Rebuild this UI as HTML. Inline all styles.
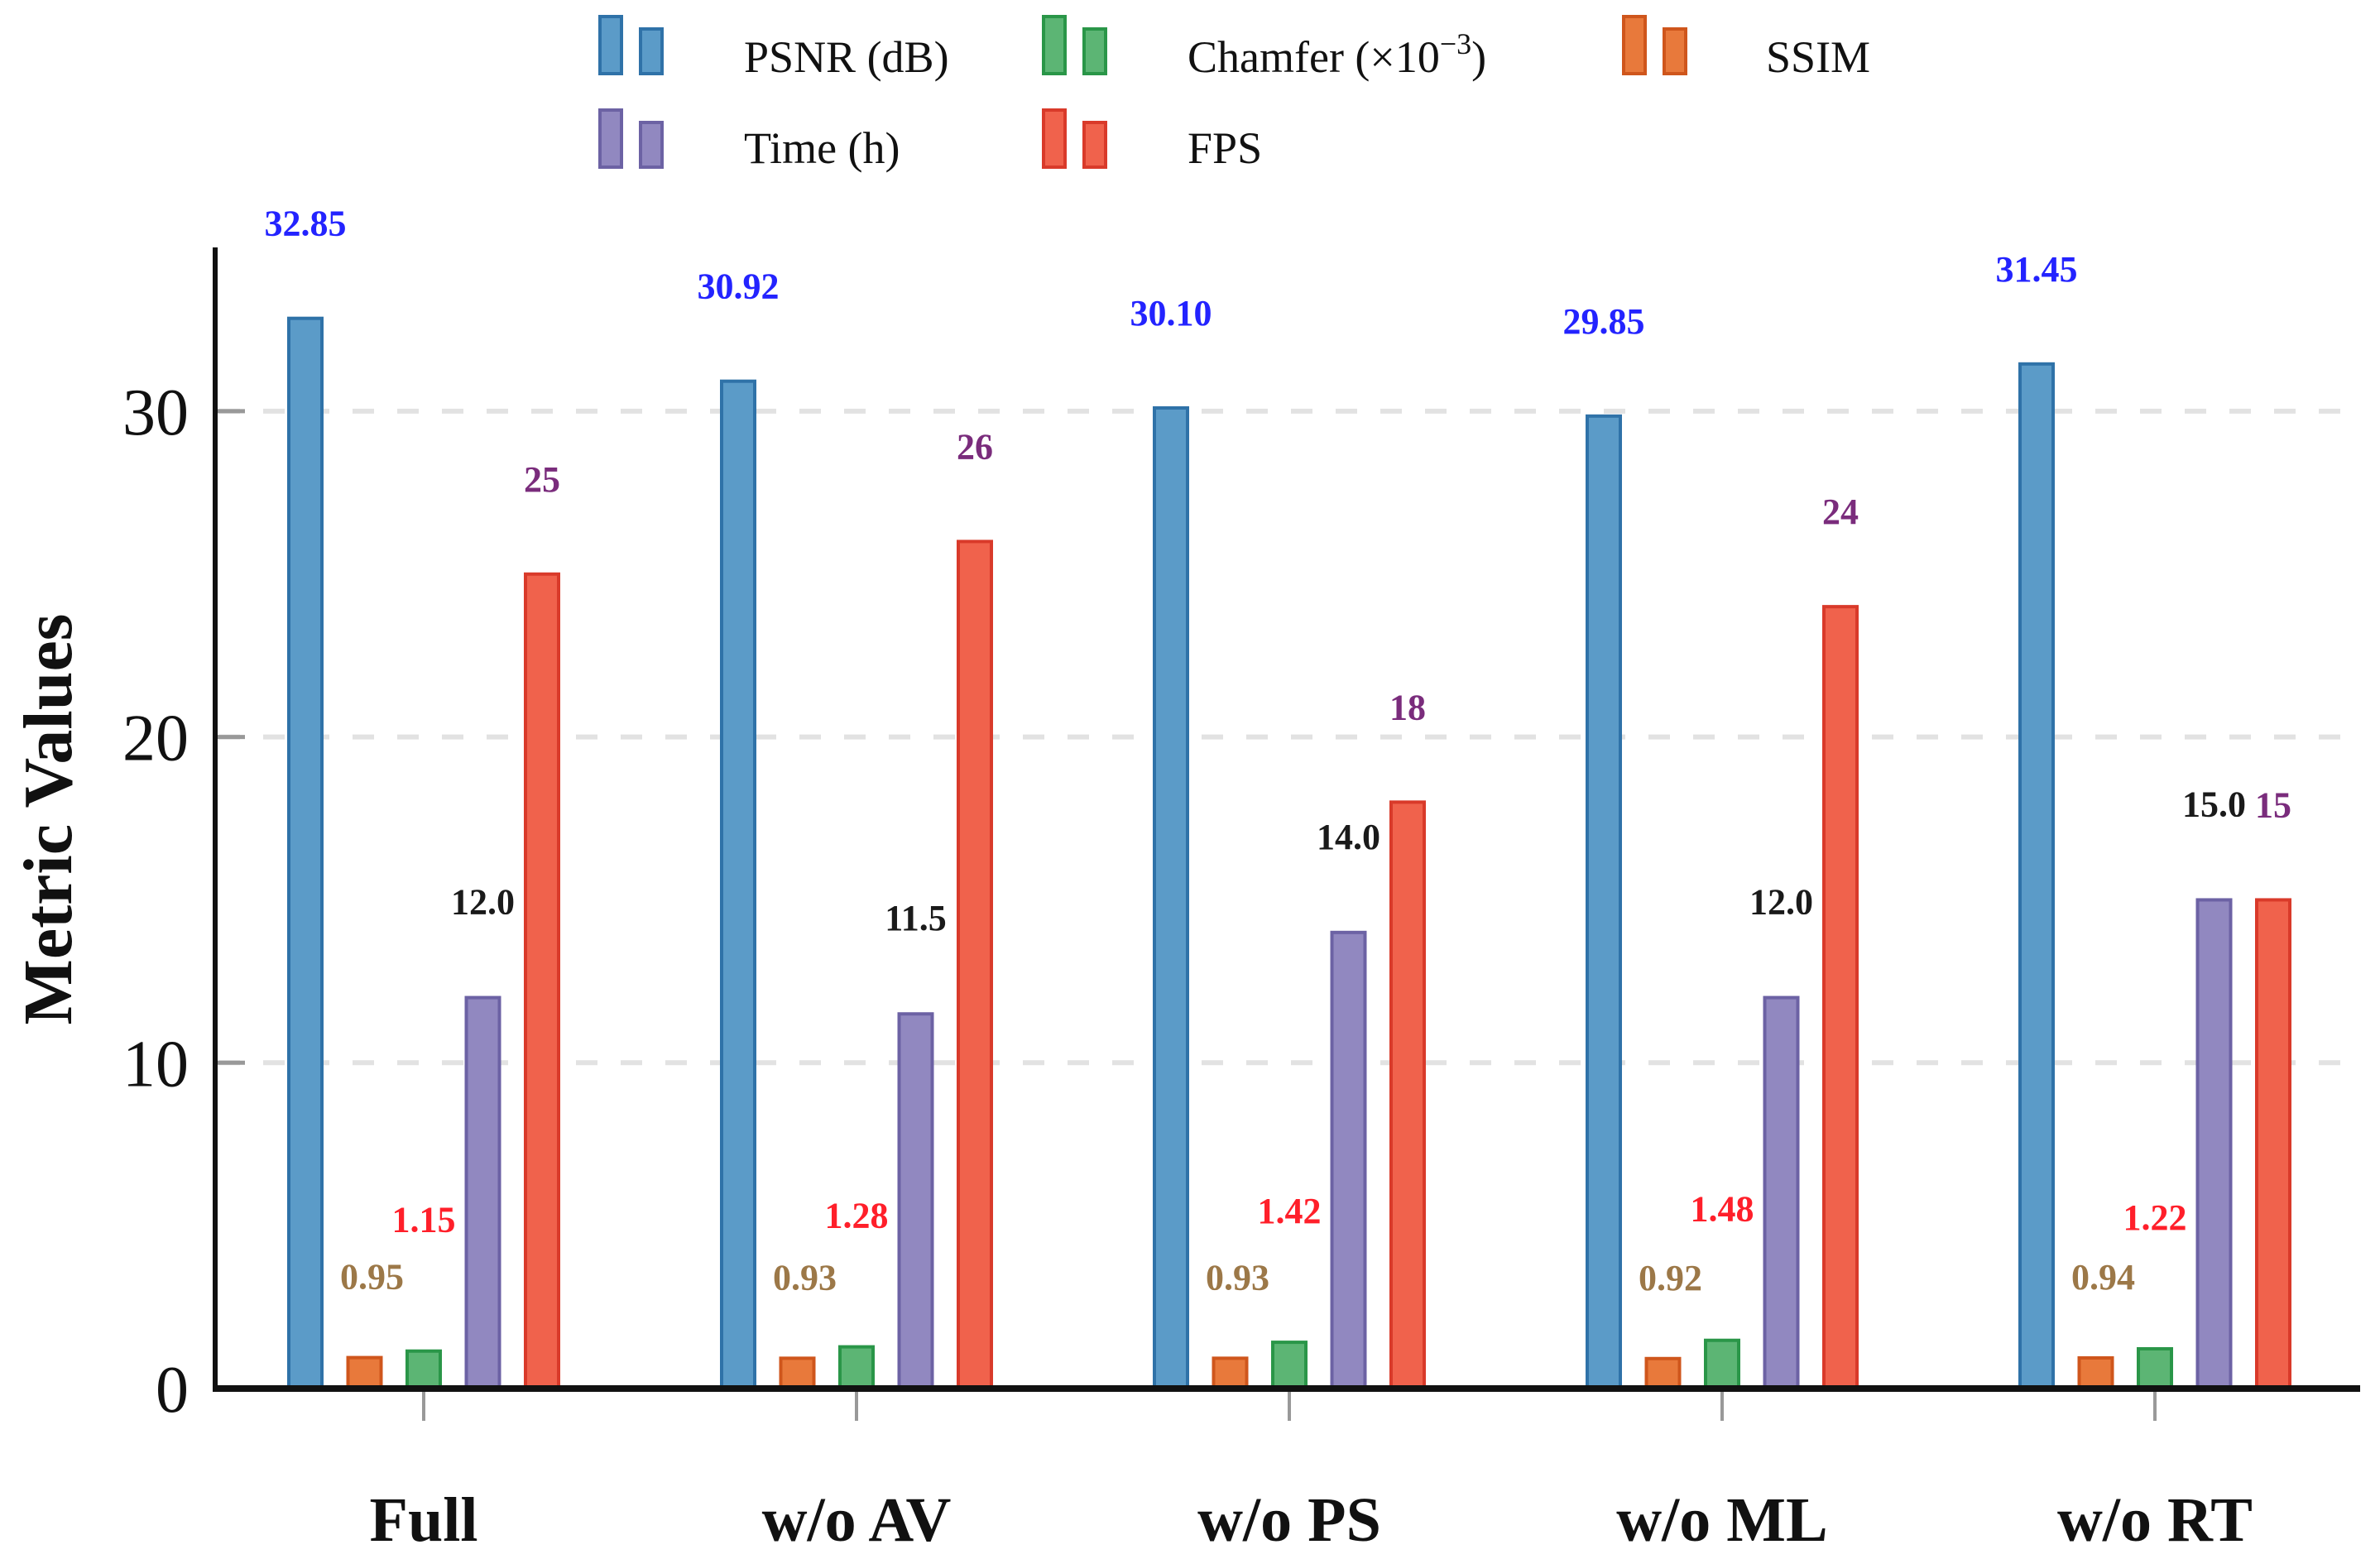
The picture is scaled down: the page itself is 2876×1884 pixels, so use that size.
<!DOCTYPE html>
<html><head><meta charset="utf-8"><style>
html,body{margin:0;padding:0;background:#fff;}
svg{display:block;font-family:"Liberation Serif",serif;}
</style></head><body>
<svg id="chart" width="2876" height="1884" viewBox="0 0 2876 1884" xmlns="http://www.w3.org/2000/svg">
<g id="grid"></g>
<g id="bars"></g>
<g id="labels"></g>
<g id="axes"></g>
<g id="legend"></g>
<text x="0" y="0" transform="translate(86,990) rotate(-90)" text-anchor="middle" font-size="84" font-weight="bold" fill="#111">Metric Values</text>
</svg>
<script>
const categories = ["Full","w/o AV","w/o PS","w/o ML","w/o RT"];
const psnr = [32.85,30.92,30.10,29.85,31.45];
const ssim = [0.95,0.93,0.93,0.92,0.94];
const chamfer = [1.15,1.28,1.42,1.48,1.22];
const timeH = [12.0,11.5,14.0,12.0,15.0];
const fps = [25,26,18,24,15];
const psnrText = ["32.85","30.92","30.10","29.85","31.45"];
const ssimText = ["0.95","0.93","0.93","0.92","0.94"];
const chamferText = ["1.15","1.28","1.42","1.48","1.22"];
const timeText = ["12.0","11.5","14.0","12.0","15.0"];
const fpsText = ["25","26","18","24","15"];
const yTicks = [0,10,20,30];

const NS="http://www.w3.org/2000/svg";
const X0=260, X1=2852, Y0=1678, PXU=39.37;
const y = v => Y0 - v*PXU;
const groupX = i => 512 + i*523;
const barW = 40;
function mk(tag, attrs, parent){const e=document.createElementNS(NS,tag);for(const k in attrs)e.setAttribute(k,attrs[k]);parent.appendChild(e);return e;}

const series = [
 {vals:psnr, txt:psnrText, fill:"#5b9bc8", stroke:"#2f72a8", lc:"#2323ff", off:116, dx:0, name:"psnr"},
 {vals:ssim, txt:ssimText, fill:"#e8793b", stroke:"#cf561c", lc:"#9c7848", off:99, dx:9, name:"ssim"},
 {vals:chamfer, txt:chamferText, fill:"#5cb574", stroke:"#2a9648", lc:"#ff1f2a", off:160, dx:0, name:"chamfer"},
 {vals:timeH, txt:timeText, fill:"#9188c0", stroke:"#6c62a4", lc:"#1a1a1a", off:117, dx:0, name:"time"},
 {vals:fps, txt:fpsText, fill:"#f0624c", stroke:"#d93a2a", lc:"#7a2c7c", off:116, dx:0, name:"fps"}
];

const grid=document.getElementById('grid'), bars=document.getElementById('bars'), labels=document.getElementById('labels'), axes=document.getElementById('axes'), legend=document.getElementById('legend');

yTicks.forEach(t=>{
  if(t>0){
    const g=mk('line',{x1:X0+4,x2:X1,y1:y(t),y2:y(t),stroke:"#e2e2e2","stroke-width":6,"stroke-dasharray":"26 28"},grid);
    
    
  }
  const tk=mk('line',{x1:X0,x2:X0+36,y1:y(t),y2:y(t),stroke:"#999","stroke-width":5},axes);
  
  
  const tl=mk('text',{x:228,y:y(t)+28,"text-anchor":"end","font-size":80,fill:"#111"},axes);
  tl.textContent=String(t);
  
  
});

categories.forEach((c,i)=>{
  const cx=groupX(i);
  series.forEach((s,j)=>{
    const bx=cx+(j-2)*71.5;
    const top=y(s.vals[i]);
    const r=mk('rect',{x:bx-barW/2,y:top,width:barW,height:Y0-top,fill:s.fill,stroke:s.stroke,"stroke-width":4},bars);
    
    
    const t=mk('text',{x:bx+s.dx,y:top-s.off+16,"text-anchor":"middle","font-size":44,"font-weight":"bold",fill:s.lc},labels);
    t.textContent=s.txt[i];
    
    
  });
  const tk=mk('line',{x1:cx,x2:cx,y1:Y0+4,y2:1717,stroke:"#999",'stroke-width':4},axes);
  
  
  const xl=mk('text',{x:cx,y:1862,"text-anchor":"middle","font-size":76,"font-weight":"bold",fill:"#111"},axes);
  xl.textContent=c;
  
  
});

const ya=mk('line',{x1:X0,x2:X0,y1:299,y2:Y0+4,stroke:"#111","stroke-width":6},axes);


const xa=mk('line',{x1:X0-3,x2:X1,y1:Y0,y2:Y0,stroke:"#111","stroke-width":8},axes);



const legItems=[
 {s:0,ix:725,tx:899,row:0,label:"PSNR (dB)"},
 {s:2,ix:1261,tx:1435,row:0,label:"Chamfer"},
 {s:1,ix:1962,tx:2134,row:0,label:"SSIM"},
 {s:3,ix:725,tx:899,row:1,label:"Time (h)"},
 {s:4,ix:1261,tx:1435,row:1,label:"FPS"}
];
legItems.forEach(it=>{
  const s=series[it.s];
  const g=mk('g',{},legend);
  
  
  const top=it.row?133:20, bot=it.row?202:89;
  mk('rect',{x:it.ix,y:top,width:26,height:bot-top,fill:s.fill,stroke:s.stroke,"stroke-width":4},g);
  mk('rect',{x:it.ix+49,y:top+15,width:26,height:bot-top-15,fill:s.fill,stroke:s.stroke,"stroke-width":4},g);
  const t=mk('text',{x:it.tx,y:it.row?197:87,"font-size":54,fill:"#111"},g);
  t.textContent=it.label;
  if(s.name==='chamfer'){
    t.textContent="Chamfer (\u00d710";
    const sup=mk('tspan',{dy:-22,"font-size":36},t);
    sup.textContent="\u22123";
    const cl=mk('tspan',{dy:22,"font-size":54},t);
    cl.textContent=")";
  }
});
</script>
</body></html>
